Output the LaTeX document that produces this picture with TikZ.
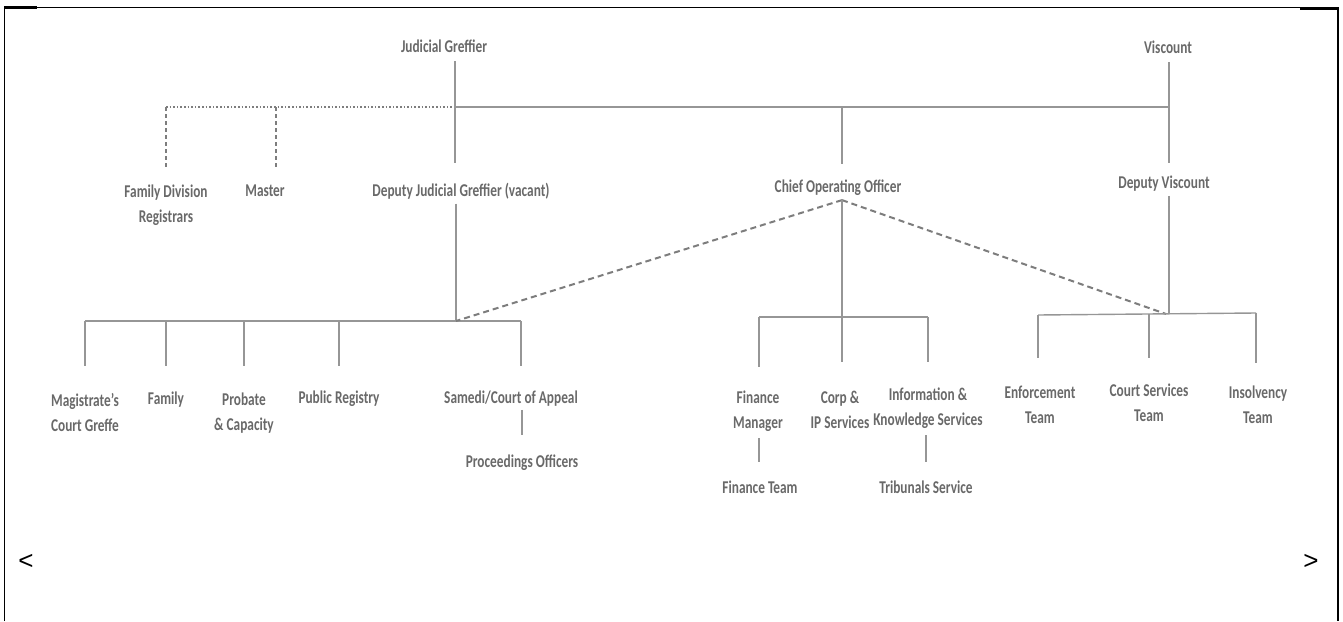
\documentclass[tikz,border=0pt]{standalone}
\usepackage{fontspec}
\setmainfont{Carlito}[FakeStretch=0.74]
\newfontfamily\navfont{Liberation Sans}
\usepackage{tikz}
\usetikzlibrary{positioning}
\definecolor{txtgray}{RGB}{105,105,105}
\definecolor{linegray}{RGB}{150,150,150}
\definecolor{dashgray}{RGB}{125,125,125}

\begin{document}
\begin{tikzpicture}[x=1pt, y=-1pt,
      lbl/.style={anchor=north, inner sep=0pt, align=center, text=txtgray, font=\fontsize{18}{25}\selectfont\bfseries},
      conn/.style={draw=linegray, line width=1.4pt},
      dotconn/.style={draw=dashgray, line width=1.6pt, dotted},
      dashconn/.style={draw=dashgray, line width=1.6pt, dash pattern=on 4pt off 3pt},
      dashlink/.style={draw=dashgray, line width=2pt, dash pattern=on 6pt off 4pt},
      frame/.style={draw=black, line width=1.6pt},
    ]
    \useasboundingbox (0,0) rectangle (1343,621);

    % Frame
    \draw[frame] (4.5,621) -- (4.5,7.5) -- (1338,7.5) -- (1338,621);
    \draw[frame, line width=3pt] (4,7.5) -- (37,7.5);
    \draw[frame, line width=3pt] (1300,8) -- (1339,8);
    \node[font=\navfont\fontsize{26}{28}\selectfont] (prev) at (26,562) {<};
    \node[font=\navfont\fontsize{26}{28}\selectfont] (next) at (1311,562) {>};

    % Nodes
    \node[lbl] (jg) at (444,40) {Judicial Greffier};
    \node[lbl] (visc) at (1168,41) {Viscount};
    \node[lbl] (fdr) at (166,185) {Family Division\\Registrars};
    \node[lbl] (master) at (265,185) {Master};
    \node[lbl] (djg) at (461,183) {Deputy Judicial Greffier (vacant)};
    \node[lbl] (coo) at (838,180) {Chief Operating Officer};
    \node[lbl] (dv) at (1164,176) {Deputy Viscount};

    \node[lbl] (mcg) at (85,393) {Magistrate's\\Court Greffe};
    \node[lbl] (fam) at (166,392) {Family};
    \node[lbl] (prob) at (244,393) {Probate\\\& Capacity};
    \node[lbl] (preg) at (339,391) {Public Registry};
    \node[lbl] (samedi) at (511,391) {Samedi/Court of Appeal};
    \node[lbl] (proc) at (522,455) {Proceedings Officers};

    \node[lbl] (fm) at (758,391) {Finance\\Manager};
    \node[lbl] (corp) at (840,391) {Corp \&\\IP Services};
    \node[lbl] (iks) at (928,388) {Information \&\\Knowledge Services};
    \node[lbl] (ft) at (760,481) {Finance Team};
    \node[lbl] (trib) at (926,481) {Tribunals Service};

    \node[lbl] (enf) at (1040,386) {Enforcement\\Team};
    \node[lbl] (cst) at (1149,384) {Court Services\\Team};
    \node[lbl] (ins) at (1258,386) {Insolvency\\Team};

    % Junctions
    \coordinate (jgj) at (455,107);
    \coordinate (vj) at (1169,107);
    \coordinate (coj) at (842,107);
    \coordinate (dotL) at (166,107);
    \coordinate (dotM) at (276,107);
    \coordinate (lbL) at (85,321);
    \coordinate (lbj) at (456,321);
    \coordinate (lbR) at (521,321);
    \coordinate (mbL) at (759,317);
    \coordinate (mbR) at (928,317);
    \coordinate (rbL) at (1038,315);
    \coordinate (rbj) at (1166,314);
    \coordinate (rbR) at (1256,313);
    \coordinate (apex) at ([yshift=-4pt]coo.south -| coj);

    % Top level
    \draw[dotconn] (dotL) -- (jgj);
    \draw[conn] (jgj) -- (vj);
    \draw[conn, shorten <=8pt, shorten >=20pt] (jg.south -| jgj) -- (djg.north -| jgj);
    \draw[conn, shorten <=8pt, shorten >=13pt] (visc.south -| vj) -- (dv.north -| vj);
    \draw[conn, shorten >=16pt] (coj) -- (coo.north -| coj);
    \draw[dashconn, shorten >=18pt] (dotL) -- (fdr.north);
    \draw[dashconn, shorten >=18pt] (dotM) -- (master.north -| dotM);

    % Greffe branch
    \draw[conn, shorten <=4pt] (djg.south -| lbj) -- (lbj);
    \draw[conn] (lbL) -- (lbR);
    \draw[conn, shorten >=27pt] (lbL) -- (mcg.north);
    \draw[conn, shorten >=26pt] (fam.north |- lbL) -- (fam.north);
    \draw[conn, shorten >=27pt] (prob.north |- lbL) -- (prob.north);
    \draw[conn, shorten >=25pt] (preg.north |- lbL) -- (preg.north);
    \draw[conn, shorten >=25pt] (lbR) -- (lbR |- samedi.north);
    \draw[conn, shorten <=3pt, shorten >=20pt] (samedi.south -| proc) -- (proc.north);

    % Operations branch
    \draw[dashlink] (apex) -- (lbj);
    \draw[dashlink] (apex) -- (rbj);
    \draw[conn] (mbL) -- (mbR);
    \draw[conn, shorten >=29pt] (apex) -- (corp.north -| apex);
    \draw[conn, shorten >=24pt] (mbL) -- (mbL |- fm.north);
    \draw[conn, shorten >=26pt] (mbR) -- (mbR |- iks.north);
    \draw[conn, shorten <=6pt, shorten >=19pt] (fm.south -| mbL) -- (ft.north -| mbL);
    \draw[conn, shorten <=6pt, shorten >=19pt] (iks.south -| trib) -- (trib.north);

    % Viscount branch
    \draw[conn, shorten <=4pt] (dv.south -| vj) -- (vj |- rbj);
    \draw[conn] (rbL) -- (rbR);
    \draw[conn, shorten >=28pt] (rbL) -- (rbL |- enf.north);
    \draw[conn, shorten >=26pt] (cst.north |- rbj) -- (cst.north);
    \draw[conn, shorten >=23pt] (rbR) -- (rbR |- ins.north);
  \end{tikzpicture}
\end{document}
